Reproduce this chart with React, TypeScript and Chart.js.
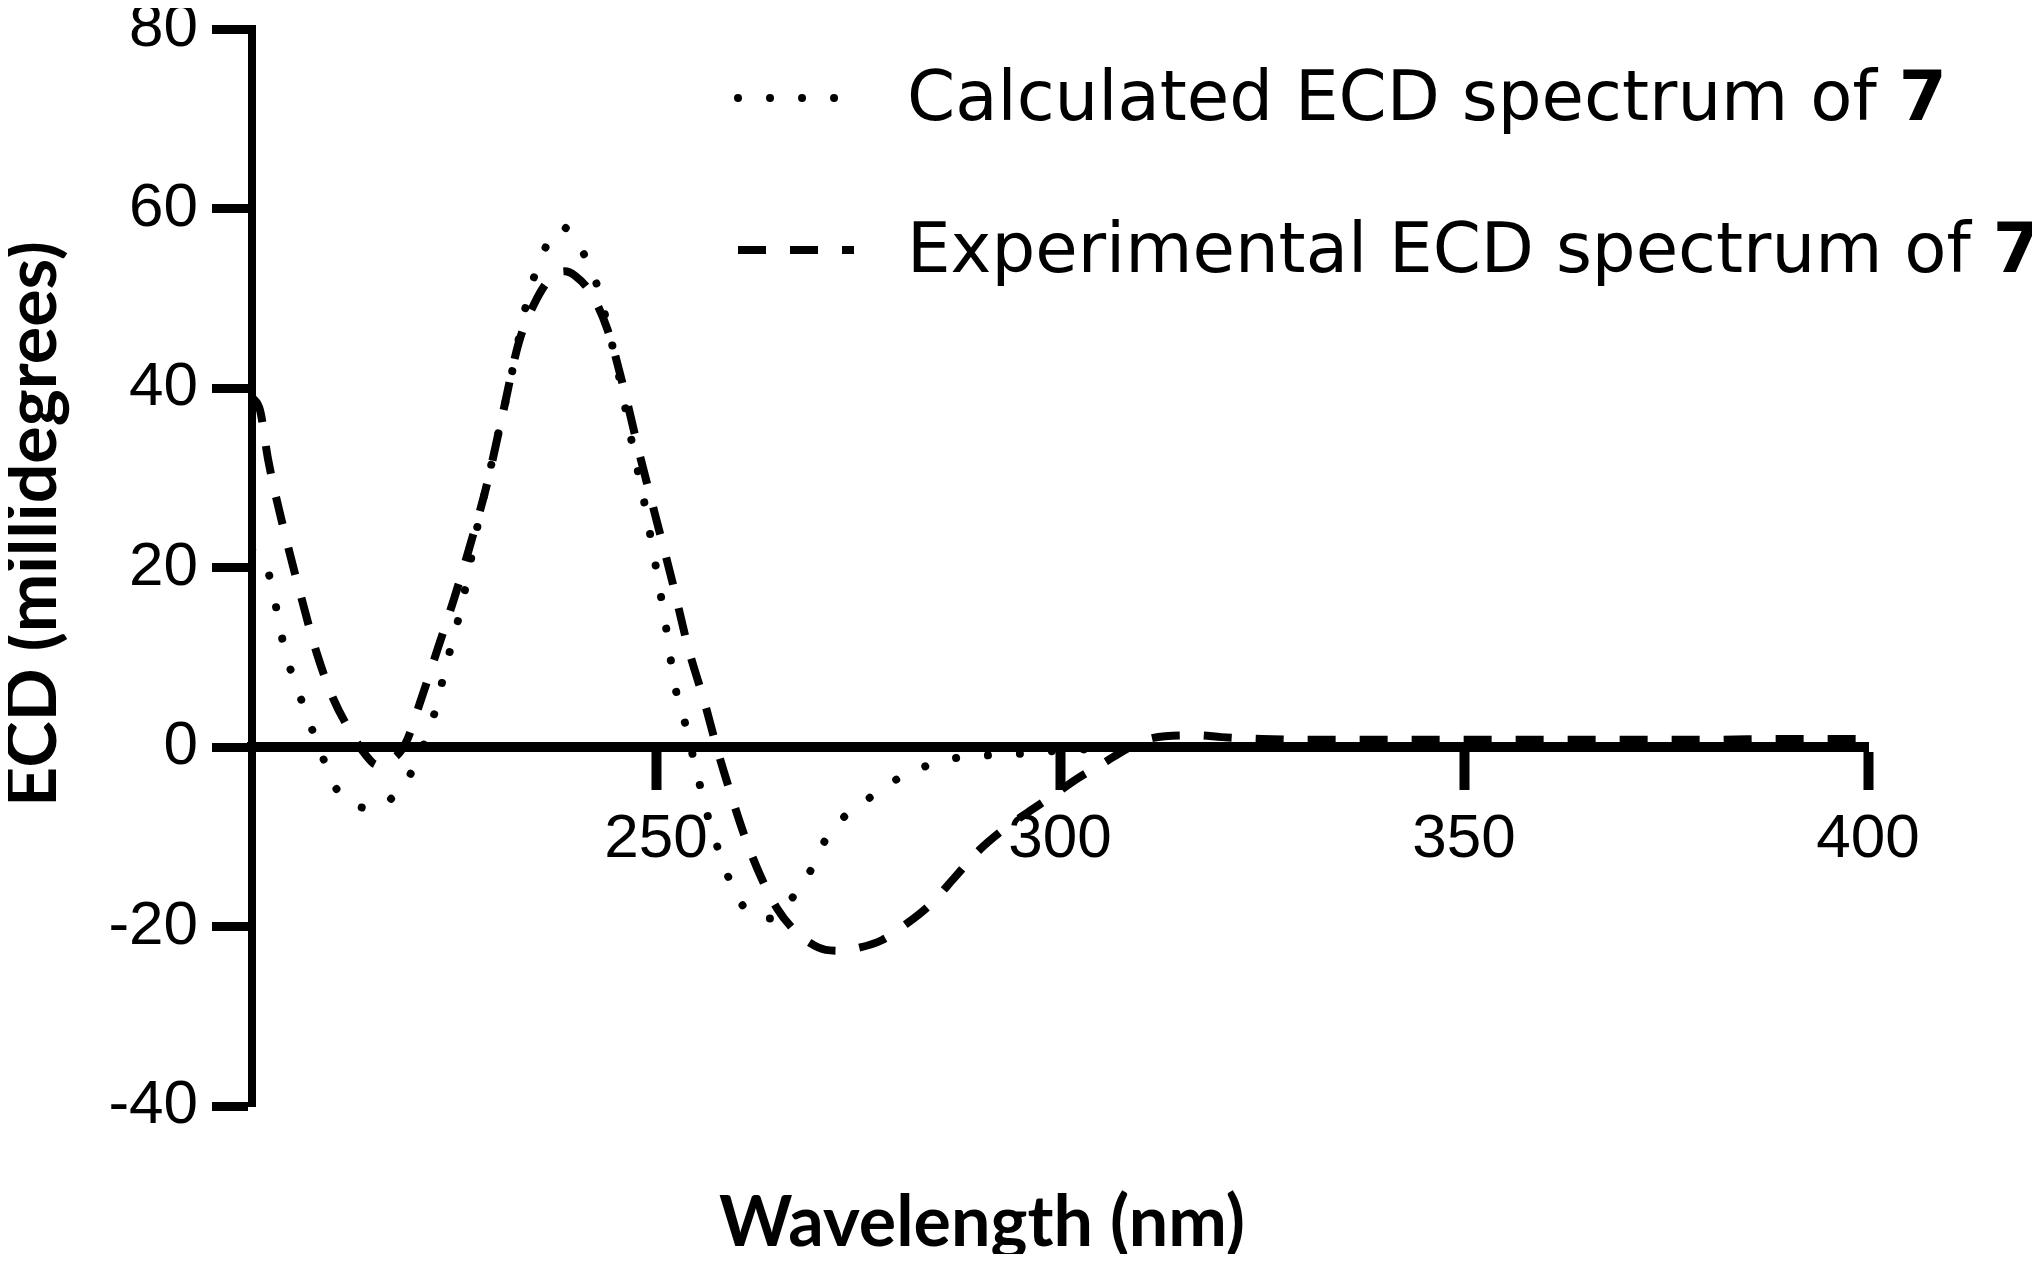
import React, { useEffect, useRef } from "react";
import { Chart, registerables } from "chart.js";

Chart.register(...registerables);

// ---- data ----
const calcWavelength = [
  200, 201, 202, 203, 204, 205, 206, 207, 208.5, 210, 211.5, 213, 214.8, 216.5, 218, 219.5, 221,
  222.5, 224, 226, 228, 230, 232, 234, 236, 238.3, 240.5, 242.5, 244, 245.5, 247, 248.5, 250,
  251.3, 252.3, 253.5, 254.5, 255.5, 256.5, 257.7, 259.1, 261, 262.5, 264.3, 266, 267.5, 269.3,
  271, 273.5, 276.7, 280, 284, 288, 292, 296, 300, 310, 320, 340, 360, 380, 400,
];
const calcEcd = [
  22, 21, 19.5, 15.5, 11, 8, 5.5, 3, -0.5, -4, -5.7, -6.6, -6.8, -6.3, -5, -3.2, -0.3,
  3.5, 9, 16, 25, 33, 41, 49.5, 55, 58, 55.8, 52, 47, 41, 34, 27.5, 20,
  13, 7, 3, -0.75, -4.5, -8, -11.4, -14.8, -18, -18.9, -19.1, -17.8, -16, -13.5,
  -10.3, -7.6, -5.5, -3.5, -1.95, -1.1, -0.9, -0.7, -0.4, -0.1, 0, 0, 0, 0, 0,
];

const expWavelength = [
  200, 201, 202, 204, 206, 208, 210, 212, 214, 215.5, 217, 219, 221, 223, 225, 227, 229, 231,
  233, 235, 237, 238.7, 240, 242, 244, 246, 248, 250, 252, 254, 256, 257.5, 259, 261, 263, 265,
  267, 269, 271, 273, 275, 278, 281, 284, 287, 290, 293, 296, 299, 302, 305, 307, 310, 313, 317,
  320, 325, 330, 340, 350, 360, 370, 380, 390, 400,
];
const expEcd = [
  39, 37.5, 32, 24, 17, 10.5, 5.5, 2, -0.8, -2, -1.6, 0.4, 5.5, 11, 16.5, 22.5, 29, 37,
  45, 49.5, 52.3, 53, 52.5, 50.5, 46.5, 40, 32.5, 25.5, 18.5, 11, 5, 0, -4.5, -10, -14.5, -18,
  -20.3, -21.8, -22.6, -22.7, -22.4, -21.5, -19.7, -17.5, -14.5, -11.5, -9.2, -7.3, -5.5, -3.6, -2, -0.9, 0.6, 1.2, 1.3,
  1.1, 0.9, 0.8, 0.8, 0.8, 0.8, 0.8, 0.8, 0.9, 0.9,
];

const xTickValues = [250, 300, 350, 400];
const yTickValues = [-40, -20, 0, 20, 40, 60, 80];

const seriesNames = ["Calculated ECD spectrum of ", "Experimental ECD spectrum of "];
const compoundNumber = "7";
const xTitle = "Wavelength (nm)";
const yTitle = "ECD (millidegrees)";

const tickFont = '"Liberation Sans", Arial, sans-serif';

const textPlugin = {
  id: "ecdText",
  afterDraw(chart: any) {
    const ctx = chart.ctx as CanvasRenderingContext2D;
    ctx.save();
    ctx.fillStyle = "#000";
    ctx.textAlign = "center";
    ctx.textBaseline = "middle";
    ctx.font = "bold 70px Lato, sans-serif";
    ctx.fillText(xTitle, 974, 1215);
    ctx.save();
    ctx.translate(25, 516);
    ctx.rotate(-Math.PI / 2);
    ctx.fillText(yTitle, 0, 0);
    ctx.restore();
    ctx.restore();

    const rows = [90, 242];
    const textRows = [94, 246];
    const sampleEnd = [832, 846];
    chart.data.datasets.forEach((ds: any, i: number) => {
      const y = rows[i];
      ctx.save();
      ctx.strokeStyle = ds.borderColor;
      ctx.lineWidth = ds.borderWidth;
      ctx.lineCap = ds.borderCapStyle;
      ctx.setLineDash(ds.borderDash);
      ctx.beginPath();
      ctx.moveTo(730, y);
      ctx.lineTo(sampleEnd[i], y);
      ctx.stroke();
      ctx.setLineDash([]);
      ctx.fillStyle = "#000";
      ctx.textAlign = "left";
      ctx.textBaseline = "middle";
      ctx.font = '69px "DejaVu Sans", sans-serif';
      ctx.fillText(seriesNames[i], 899, textRows[i]);
      const w = ctx.measureText(seriesNames[i]).width;
      ctx.font = 'bold 69px "DejaVu Sans", sans-serif';
      ctx.fillText(compoundNumber, 899 + w, textRows[i]);
      ctx.restore();
    });
  },
};

export default function App() {
  const ref = useRef<HTMLCanvasElement>(null);
  useEffect(() => {
    const chart = new Chart(ref.current as HTMLCanvasElement, {
      type: "line",
      data: {
        datasets: [
          {
            label: seriesNames[0] + compoundNumber,
            data: calcWavelength.map((x, i) => ({ x, y: calcEcd[i] })),
            borderColor: "#000",
            borderWidth: 8,
            borderDash: [0.01, 32],
            borderCapStyle: "round",
            pointRadius: 0,
            cubicInterpolationMode: "monotone",
            fill: false,
          },
          {
            label: seriesNames[1] + compoundNumber,
            data: expWavelength.map((x, i) => ({ x, y: expEcd[i] })),
            borderColor: "#000",
            borderWidth: 8,
            borderDash: [28, 24],
            borderCapStyle: "butt",
            pointRadius: 0,
            cubicInterpolationMode: "monotone",
            fill: false,
          },
        ],
      },
      options: {
        animation: false,
        responsive: true,
        maintainAspectRatio: false,
        layout: { padding: { left: 0, top: 21, right: 164, bottom: 148 } },
        plugins: {
          legend: { display: false },
          tooltip: { enabled: false },
        },
        scales: {
          x: {
            type: "linear",
            min: 200,
            max: 400,
            position: { y: 0 } as any,
            afterBuildTicks: (s: any) => {
              s.ticks = xTickValues.map((v) => ({ value: v }));
            },
            grid: {
              drawOnChartArea: false,
              drawTicks: true,
              tickLength: 38,
              tickWidth: 10,
              tickColor: "#000",
            },
            border: { display: true, color: "#000", width: 10 },
            ticks: {
              color: "#000",
              font: { family: tickFont, size: 62 },
              padding: 18,
              maxRotation: 0,
              autoSkip: false,
            },
          },
          y: {
            type: "linear",
            min: -40,
            max: 80,
            position: "left",
            afterBuildTicks: (s: any) => {
              s.ticks = yTickValues.map((v) => ({ value: v }));
            },
            afterFit: (s: any) => {
              s.width = 244;
              s.paddingTop = 0;
              s.paddingBottom = 0;
            },
            grid: {
              drawOnChartArea: false,
              drawTicks: true,
              tickLength: 40,
              tickWidth: 9,
              tickColor: "#000",
            },
            border: { display: true, color: "#000", width: 8 },
            ticks: {
              color: "#000",
              font: { family: tickFont, size: 62 },
              padding: 14,
            },
          },
        },
      },
      plugins: [textPlugin],
    });
    return () => chart.destroy();
  }, []);
  return (
    <div style={{ width: 2024, height: 1246, position: "relative" }}>
      <canvas ref={ref} />
    </div>
  );
}
